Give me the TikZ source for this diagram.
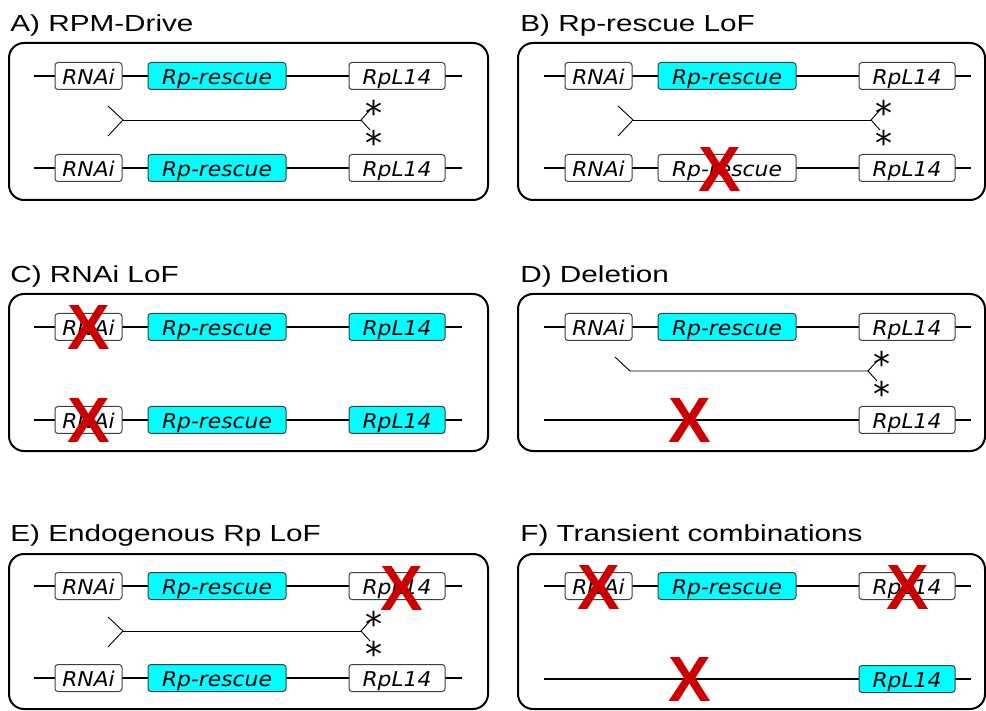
\documentclass[tikz,border=0pt]{standalone}
\usepackage{fontspec}
\setmainfont{DejaVu Sans}
\newfontfamily\headfont{Liberation Sans}
\newfontfamily\crossfont{Liberation Sans}
\usetikzlibrary{positioning}
\definecolor{rescue}{RGB}{0,255,255}
\definecolor{lofred}{RGB}{204,0,0}
\newcommand{\wide}[1]{\scalebox{1.07}[1]{#1}}
\newcommand{\widehead}[1]{\scalebox{1.28}[1]{#1}}

\begin{document}
\begin{tikzpicture}[x=0.5pt, y=-0.5pt,
    panel/.style={draw=black, line width=1pt, rounded corners=7.5pt},
    paneltitle/.style={anchor=base west, inner sep=0pt,
        font=\headfont\fontsize{11.6}{13}\selectfont},
    gene/.style={draw=black!75, line width=0.5pt, fill=white,
        rounded corners=1.5pt, minimum height=13.5pt, inner sep=0pt,
        text height=9pt, text depth=0.5pt,
        font=\fontsize{10.2}{12}\selectfont\itshape},
    rnai/.style={gene, minimum width=33.5pt},
    resc/.style={gene, minimum width=69pt},
    rpl/.style={gene, minimum width=48pt},
    active/.style={fill=rescue},
    chrom/.style={line width=0.6pt},
    strand/.style={line width=0.45pt},
    snp/.style={inner sep=0pt, yshift=-3.5pt, font=\fontsize{17}{17}\selectfont},
    lof/.style={inner sep=0pt, text=lofred,
        font=\crossfont\bfseries\fontsize{32}{32}\selectfont}
]
    \useasboundingbox (0,0) rectangle (986,711);

    % A) RPM-Drive
    \begin{scope}
        \node[paneltitle] (ta) at (10,31.5) {\widehead{A) RPM-Drive}};
        \draw[panel] (9,43) rectangle (488,200);
        \coordinate (a1s) at (34,76);  \coordinate (a1e) at (462,76);
        \coordinate (a2s) at (34,168); \coordinate (a2e) at (462,168);
        \draw[chrom] (a1s) -- (a1e);
        \draw[chrom] (a2s) -- (a2e);
        \node[rnai] (a1i) at (88.5,76) {\wide{RNAi}};
        \node[resc, active] (a1r) at (217,76) {\wide{Rp-rescue}};
        \node[rpl] (a1p) at (397,76) {\wide{RpL14}};
        \node[rnai] (a2i) at (88.5,168) {\wide{RNAi}};
        \node[resc, active] (a2r) at (217,168) {\wide{Rp-rescue}};
        \node[rpl] (a2p) at (397,168) {\wide{RpL14}};
        \coordinate (aL1) at (108,106); \coordinate (aL) at (123,120);
        \coordinate (aL2) at (108,136); \coordinate (aR) at (361,120);
        \coordinate (aR1) at (370,110); \coordinate (aR2) at (370,130);
        \draw[strand] (aL1) -- (aL) -- (aL2);
        \draw[strand] (aL) -- (aR);
        \draw[strand] (aR1) -- (aR) -- (aR2);
        \node[snp] (aS1) at (374,106) {*};
        \node[snp] (aS2) at (374,136) {*};
    \end{scope}

    % B) Rp-rescue LoF
    \begin{scope}[shift={(510,0)}]
        \node[paneltitle] (tb) at (10,31.5) {\widehead{B) Rp-rescue LoF}};
        \draw[panel] (8,43) rectangle (475,200);
        \coordinate (b1s) at (34,76);  \coordinate (b1e) at (461,76);
        \coordinate (b2s) at (34,168); \coordinate (b2e) at (461,168);
        \draw[chrom] (b1s) -- (b1e);
        \draw[chrom] (b2s) -- (b2e);
        \node[rnai] (b1i) at (88.5,76) {\wide{RNAi}};
        \node[resc, active] (b1r) at (217,76) {\wide{Rp-rescue}};
        \node[rpl] (b1p) at (397,76) {\wide{RpL14}};
        \node[rnai] (b2i) at (88.5,168) {\wide{RNAi}};
        \node[resc] (b2r) at (217,168) {\wide{Rp-rescue}};
        \node[rpl] (b2p) at (397,168) {\wide{RpL14}};
        \coordinate (bL1) at (108,106); \coordinate (bL) at (123,120);
        \coordinate (bL2) at (108,136); \coordinate (bR) at (361,120);
        \coordinate (bR1) at (370,110); \coordinate (bR2) at (370,130);
        \draw[strand] (bL1) -- (bL) -- (bL2);
        \draw[strand] (bL) -- (bR);
        \draw[strand] (bR1) -- (bR) -- (bR2);
        \node[snp] (bS1) at (374,106) {*};
        \node[snp] (bS2) at (374,136) {*};
        \node[lof] (bx) at (210,169) {X};
    \end{scope}

    % C) RNAi LoF
    \begin{scope}[shift={(0,251)}]
        \node[paneltitle] (tc) at (10,31.5) {\widehead{C) RNAi LoF}};
        \draw[panel] (9,43) rectangle (488,200);
        \coordinate (c1s) at (34,76);  \coordinate (c1e) at (462,76);
        \coordinate (c2s) at (34,169); \coordinate (c2e) at (462,169);
        \draw[chrom] (c1s) -- (c1e);
        \draw[chrom] (c2s) -- (c2e);
        \node[rnai] (c1i) at (88.5,76) {\wide{RNAi}};
        \node[resc, active] (c1r) at (217,76) {\wide{Rp-rescue}};
        \node[rpl, active] (c1p) at (397,76) {\wide{RpL14}};
        \node[rnai] (c2i) at (88.5,169) {\wide{RNAi}};
        \node[resc, active] (c2r) at (217,169) {\wide{Rp-rescue}};
        \node[rpl, active] (c2p) at (397,169) {\wide{RpL14}};
        \node[lof] (cx1) at (89,76) {X};
        \node[lof] (cx2) at (89,169) {X};
    \end{scope}

    % D) Deletion
    \begin{scope}[shift={(510,251)}]
        \node[paneltitle] (td) at (10,31.5) {\widehead{D) Deletion}};
        \draw[panel] (8,43) rectangle (475,200);
        \coordinate (d1s) at (34,76);  \coordinate (d1e) at (461,76);
        \coordinate (d2s) at (34,169); \coordinate (d2e) at (461,169);
        \draw[chrom] (d1s) -- (d1e);
        \draw[chrom] (d2s) -- (d2e);
        \node[rnai] (d1i) at (88.5,76) {\wide{RNAi}};
        \node[resc, active] (d1r) at (217,76) {\wide{Rp-rescue}};
        \node[rpl] (d1p) at (397,76) {\wide{RpL14}};
        \node[rpl] (d2p) at (397,169) {\wide{RpL14}};
        \coordinate (dL1) at (105,106); \coordinate (dL) at (120,120);
        \coordinate (dR) at (358,120);
        \coordinate (dR1) at (367,110); \coordinate (dR2) at (367,130);
        \draw[strand] (dL1) -- (dL) -- (dR);
        \draw[strand] (dR1) -- (dR) -- (dR2);
        \node[snp] (dS1) at (372,106) {*};
        \node[snp] (dS2) at (372,136) {*};
        \node[lof] (dx) at (179.5,169) {X};
    \end{scope}

    % E) Endogenous Rp LoF
    \begin{scope}[shift={(0,510)}]
        \node[paneltitle] (te) at (10,31.5) {\widehead{E) Endogenous Rp LoF}};
        \draw[panel] (9,44) rectangle (488,199);
        \coordinate (e1s) at (34,76);  \coordinate (e1e) at (462,76);
        \coordinate (e2s) at (34,168); \coordinate (e2e) at (462,168);
        \draw[chrom] (e1s) -- (e1e);
        \draw[chrom] (e2s) -- (e2e);
        \node[rnai] (e1i) at (88.5,76) {\wide{RNAi}};
        \node[resc, active] (e1r) at (217,76) {\wide{Rp-rescue}};
        \node[rpl] (e1p) at (397,76) {\wide{RpL14}};
        \node[rnai] (e2i) at (88.5,168) {\wide{RNAi}};
        \node[resc, active] (e2r) at (217,168) {\wide{Rp-rescue}};
        \node[rpl] (e2p) at (397,168) {\wide{RpL14}};
        \coordinate (eL1) at (108,107); \coordinate (eL) at (123,121);
        \coordinate (eL2) at (108,137); \coordinate (eR) at (361,121);
        \coordinate (eR1) at (370,111); \coordinate (eR2) at (370,131);
        \draw[strand] (eL1) -- (eL) -- (eL2);
        \draw[strand] (eL) -- (eR);
        \draw[strand] (eR1) -- (eR) -- (eR2);
        \node[snp] (eS1) at (374,107) {*};
        \node[snp] (eS2) at (374,137) {*};
        \node[lof] (ex) at (402,78) {X};
    \end{scope}

    % F) Transient combinations
    \begin{scope}[shift={(510,510)}]
        \node[paneltitle] (tf) at (10,31.5) {\widehead{F) Transient combinations}};
        \draw[panel] (8,44) rectangle (475,199);
        \coordinate (f1s) at (34,76);  \coordinate (f1e) at (461,76);
        \coordinate (f2s) at (34,169); \coordinate (f2e) at (461,169);
        \draw[chrom] (f1s) -- (f1e);
        \draw[chrom] (f2s) -- (f2e);
        \node[rnai] (f1i) at (88.5,76) {\wide{RNAi}};
        \node[resc, active] (f1r) at (217,76) {\wide{Rp-rescue}};
        \node[rpl] (f1p) at (397,76) {\wide{RpL14}};
        \node[rpl, active] (f2p) at (397,169) {\wide{RpL14}};
        \node[lof] (fx1) at (89,77) {X};
        \node[lof] (fx2) at (397.5,77) {X};
        \node[lof] (fx3) at (179.5,169) {X};
    \end{scope}
\end{tikzpicture}
\end{document}
